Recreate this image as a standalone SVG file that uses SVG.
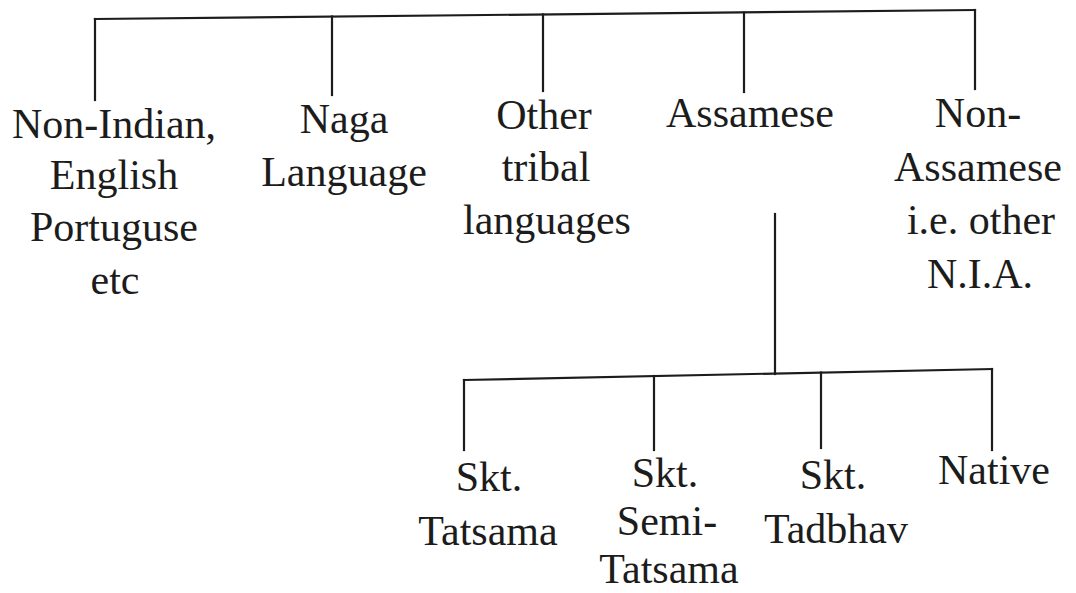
<svg xmlns="http://www.w3.org/2000/svg" width="1076" height="593" viewBox="0 0 1076 593">
<style>
text{font-family:"Liberation Serif","Times New Roman",serif;font-size:42px;fill:#1c1c1c;text-anchor:middle}
.c line{stroke:#1c1c1c;stroke-width:2.2;stroke-linecap:square}
</style>
<rect width="1076" height="593" fill="#ffffff"/>
<g id="connectors" class="c">
<line x1="95" y1="19" x2="975" y2="10"/>
<line x1="95" y1="19" x2="95" y2="100"/>
<line x1="332" y1="16.5" x2="332" y2="95"/>
<line x1="543" y1="14.5" x2="543" y2="91"/>
<line x1="744" y1="12.5" x2="744" y2="92"/>
<line x1="975" y1="10" x2="975" y2="89"/>
<line x1="775" y1="214" x2="775" y2="374"/>
<line x1="464" y1="380" x2="992" y2="369"/>
<line x1="464" y1="380" x2="464" y2="450"/>
<line x1="654" y1="376" x2="654" y2="450"/>
<line x1="821" y1="372.5" x2="821" y2="448"/>
<line x1="992" y1="369" x2="992" y2="450"/>
</g>
<g id="node-non-indian">
<text x="114" y="138">Non-Indian,</text>
<text x="114" y="189">English</text>
<text x="114" y="241">Portuguse</text>
<text x="115" y="294">etc</text>
</g>
<g id="node-naga">
<text x="344" y="133">Naga</text>
<text x="344" y="186">Language</text>
</g>
<g id="node-other-tribal">
<text x="544" y="129">Other</text>
<text x="546" y="181">tribal</text>
<text x="547" y="234">languages</text>
</g>
<g id="node-assamese">
<text x="750" y="127">Assamese</text>
</g>
<g id="node-non-assamese">
<text x="978" y="127">Non-</text>
<text x="978" y="181">Assamese</text>
<text x="981" y="234">i.e. other</text>
<text x="980" y="288">N.I.A.</text>
</g>
<g id="node-tatsama">
<text x="489" y="491">Skt.</text>
<text x="488" y="545">Tatsama</text>
</g>
<g id="node-semi-tatsama">
<text x="665" y="487">Skt.</text>
<text x="667" y="535">Semi-</text>
<text x="669" y="583">Tatsama</text>
</g>
<g id="node-tadbhav">
<text x="833" y="489">Skt.</text>
<text x="836" y="543">Tadbhav</text>
</g>
<g id="node-native">
<text x="994" y="484">Native</text>
</g>
</svg>
